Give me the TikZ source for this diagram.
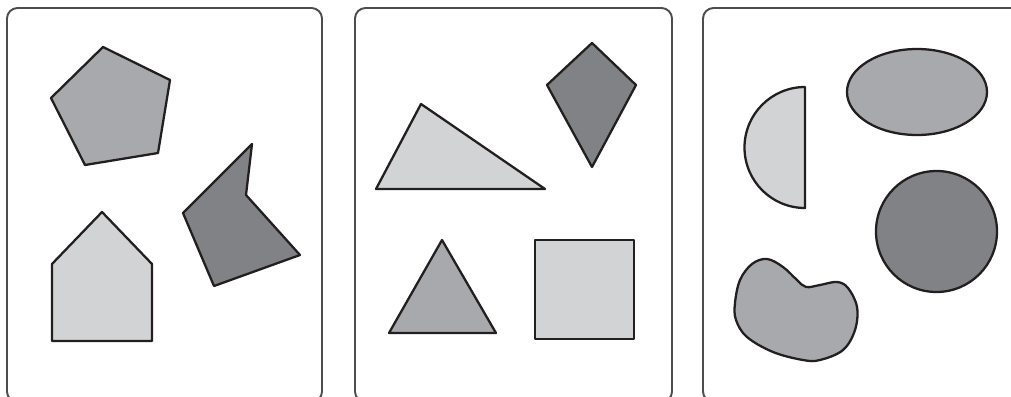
\documentclass[tikz,border=0pt]{standalone}
\usepackage{xcolor}
\usepackage{tikz}
\usetikzlibrary{calc}
\definecolor{shapelight}{HTML}{D1D3D5}
\definecolor{shapemid}{HTML}{A7A9AC}
\definecolor{shapedark}{HTML}{808285}
\definecolor{edgeink}{HTML}{231F20}
\definecolor{frameink}{HTML}{4D4D4F}

\begin{document}
\begin{tikzpicture}[x=0.02cm, y=-0.02cm,
    panel/.style={draw=frameink, line width=1.1pt, rounded corners=6pt},
    piece/.style={draw=edgeink, line width=1.3pt, line join=round}]
    \useasboundingbox (0,0) rectangle (1011,396);
    \clip (0,0) rectangle (1011,396);

    % Panels
    \foreach \l/\r in {7/322, 355/672, 703/1022}{
        \draw[panel] (\l, 8) rectangle (\r, 402);
    }

    % Panel 1: pentagon, house, dark notched shape
    \draw[piece, fill=shapemid] (103,47) -- (170,80) -- (158,153) -- (85,165) -- (51,98) -- cycle;
    \draw[piece, fill=shapelight] (102,212) -- (152,264) -- (152,341) -- (52,341) -- (52,264) -- cycle;
    \draw[piece, fill=shapedark] (252,144) -- (246,195) -- (300,255) -- (214,286) -- (183,213) -- cycle;

    % Panel 2: kite, triangles, square
    \draw[piece, fill=shapedark] (592,43) -- (636,85) -- (592,167) -- (547,85) -- cycle;
    \draw[piece, fill=shapelight] (421,104) -- (545,189) -- (376,189) -- cycle;
    \draw[piece, fill=shapemid] (442,240) -- (496,333) -- (389,333) -- cycle;
    \draw[piece, fill=shapelight] (535,240) rectangle (634,339);

    % Panel 3: half disc, ellipse, circle, blob
    \draw[piece, fill=shapelight] (805,87) -- (805,208) arc[start angle=90, end angle=270, radius=60.5] -- cycle;
    \draw[piece, fill=shapemid] (917,92) circle[x radius=70, y radius=43];
    \draw[piece, fill=shapedark] (936.5,231.5) circle[radius=60.5];
    \draw[piece, fill=shapemid] plot[smooth cycle, tension=0.6] coordinates {
        (735,303) (740,280) (752,264) (767,259) (783,267) (797,280) (806,287)
        (820,285) (837,282) (848,288) (857,307) (855,330) (843,350) (820,360)
        (803,360) (773,352) (747,337) (736,320)};
\end{tikzpicture}
\end{document}
